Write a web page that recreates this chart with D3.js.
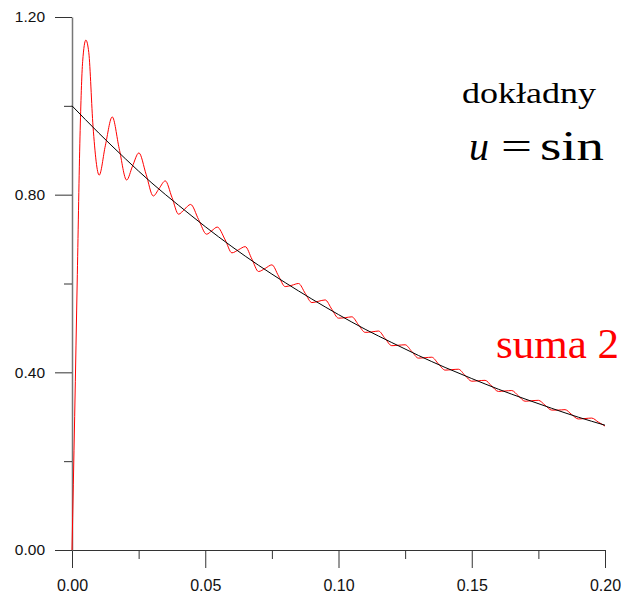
<!DOCTYPE html>
<html>
<head>
<meta charset="utf-8">
<script src="https://cdn.jsdelivr.net/npm/d3@7"></script>
<style>
  html, body { margin: 0; padding: 0; background: #fff; overflow: hidden; }
  svg { display: block; }
</style>
</head>
<body>
<svg id="chart" width="621" height="595"></svg>
<script>
// ---- data ----
const exactX = [0, 0.01, 0.02, 0.03, 0.04, 0.05, 0.06, 0.07, 0.08, 0.09, 0.10,
                0.11, 0.12, 0.13, 0.14, 0.15, 0.16, 0.17, 0.18, 0.19, 0.20];
const exactY = [1.000, 0.939, 0.881, 0.826, 0.776, 0.728, 0.683, 0.641, 0.602, 0.565, 0.530,
                0.497, 0.467, 0.438, 0.411, 0.386, 0.362, 0.340, 0.319, 0.299, 0.281];

const sumX = [0, 0.001, 0.002, 0.003, 0.004, 0.0052, 0.0063, 0.0079, 0.0102,
              0.0125, 0.0151, 0.0177, 0.0205, 0.0227, 0.0251, 0.0278, 0.0305,
              0.0327, 0.035, 0.0375, 0.040, 0.0422, 0.0445,
              0.0475, 0.0505, 0.0525, 0.0545, 0.0575, 0.060, 0.0625, 0.065,
              0.0675, 0.070, 0.0725, 0.075, 0.0775, 0.080, 0.0825, 0.085,
              0.0875, 0.090, 0.0925, 0.095, 0.0975, 0.100, 0.1025, 0.105,
              0.1075, 0.110, 0.1125, 0.115, 0.1175, 0.120, 0.1225, 0.125,
              0.1275, 0.130, 0.1325, 0.135, 0.1375, 0.140, 0.1425, 0.145,
              0.1475, 0.150, 0.1525, 0.155, 0.1575, 0.160, 0.1625, 0.165,
              0.1675, 0.170, 0.1725, 0.175, 0.1775, 0.180, 0.1825, 0.185,
              0.1875, 0.190, 0.1925, 0.195, 0.1975, 0.200];
const sumY = [0, 0.30, 0.62, 0.93, 1.10, 1.148, 1.12, 0.953, 0.844,
              0.910, 0.975, 0.904, 0.833, 0.864, 0.894, 0.846, 0.797,
              0.814, 0.831, 0.794, 0.756, 0.767, 0.778,
              0.744, 0.711, 0.719, 0.727, 0.698, 0.669, 0.676, 0.683,
              0.655, 0.627, 0.634, 0.642, 0.617, 0.593, 0.596, 0.600,
              0.578, 0.557, 0.560, 0.563, 0.542, 0.522, 0.523, 0.525,
              0.507, 0.490, 0.491, 0.493, 0.476, 0.460, 0.461, 0.462,
              0.447, 0.432, 0.433, 0.434, 0.419, 0.405, 0.406, 0.407,
              0.393, 0.380, 0.381, 0.382, 0.369, 0.357, 0.358, 0.359,
              0.347, 0.335, 0.336, 0.337, 0.326, 0.315, 0.315, 0.316,
              0.305, 0.295, 0.296, 0.297, 0.288, 0.279];

const xMajorTicks = [0, 0.05, 0.10, 0.15, 0.20];
const xMajorLabels = ["0.00", "0.05", "0.10", "0.15", "0.20"];
const xMinorTicks = [0.025, 0.075, 0.125, 0.175];
const yMajorTicks = [0, 0.40, 0.80, 1.20];
const yMajorLabels = ["0.00", "0.40", "0.80", "1.20"];
const yMinorTicks = [0.20, 0.60, 1.00];

const labelExact = "dokładny";
const labelFormulaVar = "u";
const labelFormulaEq = "=";
const labelFormulaFn = "sin";
const labelSum = "suma 2";

// ---- drawing ----
const svg = d3.select("#chart");
const x = d3.scaleLinear().domain([0, 0.20]).range([72, 605]);
const y = d3.scaleLinear().domain([0, 1.20]).range([550, 17]);

const font = "Arial, 'Liberation Sans', sans-serif";

// x axis (major with labels)
const gx = svg.append("g").attr("transform", `translate(0,${y(0)})`);
gx.call(d3.axisBottom(x).tickValues(xMajorTicks)
  .tickFormat((d, i) => xMajorLabels[i]).tickSizeInner(18).tickSizeOuter(0).tickPadding(12));
gx.select(".domain").attr("stroke", "#333").attr("stroke-width", 1);
gx.selectAll(".tick line").attr("stroke", "#333");
gx.selectAll(".tick text").attr("font-family", font).attr("font-size", 16).attr("fill", "#111");
// x minor
const gxm = svg.append("g").attr("transform", `translate(0,${y(0)})`);
gxm.call(d3.axisBottom(x).tickValues(xMinorTicks).tickFormat("").tickSizeInner(9).tickSizeOuter(0));
gxm.select(".domain").remove();
gxm.selectAll(".tick line").attr("stroke", "#333");

// y axis (major with labels)
const gy = svg.append("g").attr("transform", `translate(${x(0)},0)`);
gy.call(d3.axisLeft(y).tickValues(yMajorTicks)
  .tickFormat((d, i) => yMajorLabels[i]).tickSizeInner(17).tickSizeOuter(0).tickPadding(10));
gy.select(".domain").attr("stroke", "#777").attr("stroke-width", 1.5);
gy.selectAll(".tick line").attr("stroke", "#333");
gy.selectAll(".tick text").attr("font-family", font).attr("font-size", 15.5).attr("fill", "#111");
// y minor
const gym = svg.append("g").attr("transform", `translate(${x(0)},0)`);
gym.call(d3.axisLeft(y).tickValues(yMinorTicks).tickFormat("").tickSizeInner(8).tickSizeOuter(0));
gym.select(".domain").remove();
gym.selectAll(".tick line").attr("stroke", "#333");

// series
const sumData = sumX.map((v, i) => [v, sumY[i]]);
const exactData = exactX.map((v, i) => [v, exactY[i]]);

svg.append("path")
  .datum(sumData)
  .attr("fill", "none")
  .attr("stroke", "#ff0000")
  .attr("stroke-width", 1)
  .attr("d", d3.line().x(d => x(d[0])).y(d => y(d[1])).curve(d3.curveMonotoneX));

svg.append("path")
  .datum(exactData)
  .attr("fill", "none")
  .attr("stroke", "#000")
  .attr("stroke-width", 1)
  .attr("d", d3.line().x(d => x(d[0])).y(d => y(d[1])).curve(d3.curveNatural));

// annotations
const serif = "'Liberation Serif', 'Times New Roman', serif";
svg.append("text")
  .attr("x", 462).attr("y", 103)
  .attr("font-family", serif).attr("font-size", 30)
  .attr("textLength", 134).attr("lengthAdjust", "spacingAndGlyphs")
  .attr("fill", "#000").text(labelExact);

svg.append("text")
  .attr("x", 469).attr("y", 160)
  .attr("font-family", serif).attr("font-size", 40).attr("font-style", "italic")
  .attr("fill", "#000").text(labelFormulaVar);
svg.append("text")
  .attr("x", 501).attr("y", 160)
  .attr("font-family", serif).attr("font-size", 40)
  .attr("textLength", 31).attr("lengthAdjust", "spacingAndGlyphs")
  .attr("fill", "#000").text(labelFormulaEq);
svg.append("text")
  .attr("x", 540).attr("y", 160)
  .attr("font-family", serif).attr("font-size", 42)
  .attr("textLength", 64).attr("lengthAdjust", "spacingAndGlyphs")
  .attr("fill", "#000").text(labelFormulaFn);

svg.append("text")
  .attr("x", 496).attr("y", 358)
  .attr("font-family", serif).attr("font-size", 43)
  .attr("textLength", 123).attr("lengthAdjust", "spacingAndGlyphs")
  .attr("fill", "#ff0000").text(labelSum);
</script>
</body>
</html>
